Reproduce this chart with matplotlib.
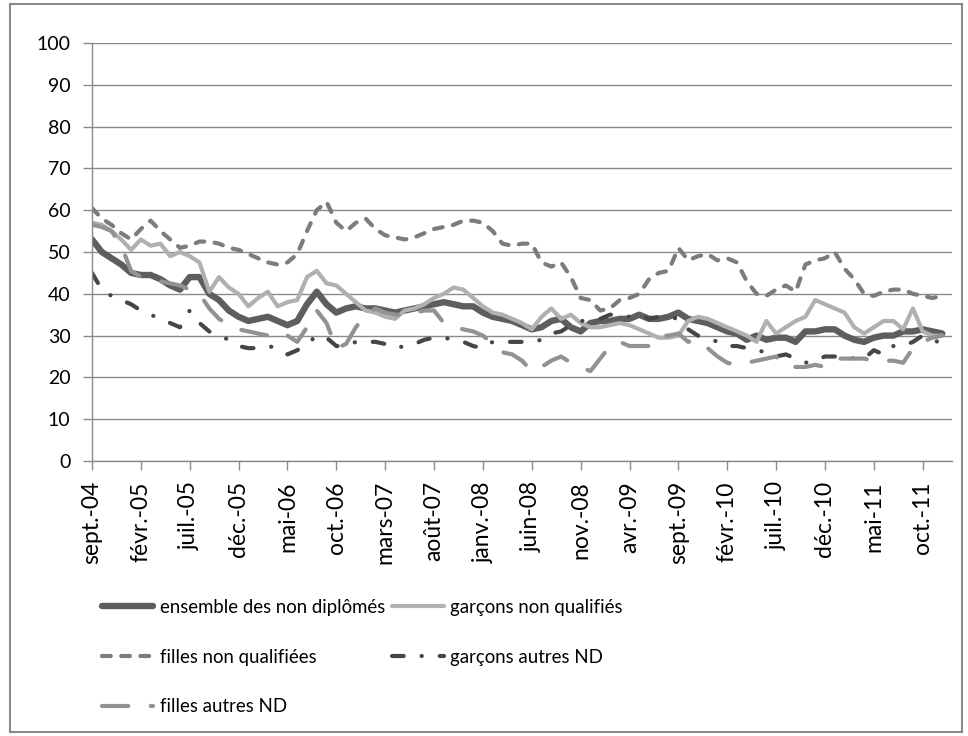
import matplotlib
matplotlib.use('Agg')
import matplotlib.pyplot as plt
from matplotlib.patches import Rectangle

plt.rcParams['font.family'] = ['Lato', 'DejaVu Sans']

# monthly series, sept. 2004 -> dec. 2011
mois = ['janv.', 'févr.', 'mars', 'avr.', 'mai', 'juin',
        'juil.', 'août', 'sept.', 'oct.', 'nov.', 'déc.']
n_mois = 88
categories = [f"{mois[(8 + k) % 12]}-{(4 + (8 + k) // 12):02d}" for k in range(n_mois)]

ensemble = [53, 50, 48.5, 47, 45, 44.5, 44.5, 43.5, 42, 41,
            44, 44, 40, 38.5, 36, 34.5, 33.5, 34, 34.5, 33.5,
            32.5, 33.5, 37.5, 40.5, 37.5, 35.5, 36.5, 37, 36.5, 36.5,
            36, 35.5, 36, 36.5, 37, 37.5, 38, 37.5, 37, 37,
            35.5, 34.5, 34, 33.5, 32.5, 31.5, 32, 33.5, 34, 32,
            31, 33, 33.5, 33.5, 34, 34, 35, 34, 34, 34.5,
            35.5, 34, 33.5, 33, 32, 31, 30.5, 29, 30, 29,
            29.5, 29.5, 28.5, 31, 31, 31.5, 31.5, 30, 29, 28.5,
            29.5, 30, 30, 31, 31, 31.5, 31, 30.5]

garcons_nq = [57, 56.5, 55, 53, 50.5, 53, 51.5, 52, 49, 50,
              49, 47.5, 40.5, 44, 41.5, 40, 37, 39, 40.5, 37,
              38, 38.5, 44, 45.5, 42.5, 42, 40, 38, 36, 35.5,
              34.5, 34, 36, 36.5, 37.5, 39, 40, 41.5, 41, 39,
              37, 35.5, 35, 34, 33, 31.5, 34.5, 36.5, 34, 35,
              33, 32, 32, 32.5, 33, 32.5, 31.5, 30.5, 29.5, 29.5,
              30, 33.5, 34.5, 34, 33, 32, 31, 30, 28.5, 33.5,
              30.5, 32, 33.5, 34.5, 38.5, 37.5, 36.5, 35.5, 32, 30.5,
              32, 33.5, 33.5, 31.5, 36.5, 31, 30, 30]

filles_nq = [60.5, 58, 56.5, 54.5, 53, 55.5, 57.5, 55, 53, 51,
             51.5, 52.5, 52.5, 52, 51, 50.5, 49.5, 48.5, 47.5, 47,
             47.5, 49.5, 55, 60, 62, 57, 55, 57, 58, 55.5,
             54, 53.5, 53, 53.5, 54.5, 55.5, 56, 56.5, 57.5, 57.5,
             57, 55, 52, 51.5, 52, 52, 47.5, 46.5, 47.5, 44,
             39, 38.5, 36, 36.5, 38.5, 39, 40, 43.5, 45, 45.5,
             51, 48, 49, 49.5, 48, 48.5, 47.5, 43, 40, 39.5,
             41, 42, 40.5, 47, 48, 48.5, 50, 46, 43.5, 40,
             39.5, 40.5, 41, 41, 40, 39.5, 39, 39.5]

garcons_autres = [45, 41, 39.5, 38.5, 37.5, 36, 35, 34, 33, 32,
                  36, 33, 31, 30, 29, 27.5, 27, 27, 27.5, 27,
                  25.5, 26.5, 28, 30, 29.5, 27.5, 27.5, 28.5, 28.5, 28.5,
                  28, 27, 27.5, 28, 29, 29.5, 29.5, 29, 28.5, 27.5,
                  27, 28.5, 28.5, 28.5, 28.5, 28.5, 29, 30.5, 31, 32.5,
                  33.5, 33.5, 34, 35, 35, 34.5, 35, 34, 34.5, 34.5,
                  34, 31.5, 30, 29.5, 28.5, 27.5, 27.5, 27, 26.5, 26,
                  25, 25.5, 24.5, 23.5, 24, 25, 25, 25, 24.5, 24.5,
                  26.5, 25.5, 27.5, 27.5, 28.5, 30, 29.5, 27.5]

filles_autres = [56.5, 56, 55, 51.5, 45.5, 44, 43.5, 43, 42.5, 42,
                 41, 40, 36.5, 34, 32.5, 31.5, 31, 30.5, 30, 31,
                 30, 28.5, 32, 36, 33, 27, 28, 32, 35, 36.5,
                 35.5, 35, 35, 35.5, 36, 36, 33, 32, 31.5, 31,
                 30, 28, 26, 25.5, 24, 21.5, 22.5, 24, 25, 23.5,
                 22.5, 21.5, 24.5, 27.5, 28.5, 27.5, 27.5, 27.5, 30, 30,
                 30.5, 28.5, 29, 27, 25, 23.5, 23, 23.5, 24, 24.5,
                 25, 22.5, 22.5, 22.5, 23, 22.5, 24.5, 24.5, 24.5, 24.5,
                 24, 24, 24, 23.5, 27, 28.5, 29.5, 30]

noms = ['ensemble des non diplômés', 'garçons non qualifiés',
        'filles non qualifiées', 'garçons autres ND', 'filles autres ND']

fig = plt.figure(figsize=(9.68, 7.36), dpi=100)
ax = fig.add_axes([92 / 968, 1 - 461 / 736, 860 / 968, 418 / 736])

x = range(n_mois)
grid_c = '#8a8a8a'

l_ens, = ax.plot(x, ensemble, color='#5e5e5e', lw=4.6,
                 solid_capstyle='round', solid_joinstyle='round', label=noms[0])
l_gnq, = ax.plot(x, garcons_nq, color='#b0b0b0', lw=3.0,
                 solid_capstyle='round', solid_joinstyle='round', label=noms[1])
l_fnq, = ax.plot(x, filles_nq, color='#7c7c7c', lw=3.0,
                 dash_capstyle='round', dash_joinstyle='round', label=noms[2])
l_fnq.set_dashes((2.1, 2.5))
l_gau, = ax.plot(x, garcons_autres, color='#464646', lw=3.0,
                 dash_capstyle='round', dash_joinstyle='round', label=noms[3])
l_gau.set_dashes((2.8, 4.3, 0.05, 4.3))
l_fau, = ax.plot(x, filles_autres, color='#929292', lw=3.0,
                 dash_capstyle='round', dash_joinstyle='round', label=noms[4])
l_fau.set_dashes((6.3, 5.4))

ax.set_xlim(0, n_mois)
ax.set_ylim(0, 100)
ax.set_yticks(range(0, 101, 10))
ax.yaxis.grid(True, color=grid_c, lw=1.0)
ax.set_axisbelow(True)

pos = list(range(0, n_mois, 5))
ax.set_xticks(pos)
ax.set_xticklabels([categories[p] for p in pos], rotation=90, va='top', ha='center')

for s in ['top', 'right']:
    ax.spines[s].set_visible(False)
for s in ['left', 'bottom']:
    ax.spines[s].set_color(grid_c)
    ax.spines[s].set_linewidth(1.0)
ax.tick_params(axis='both', colors=grid_c, labelcolor='black',
               length=6.5, width=1.0)
ax.tick_params(axis='y', pad=9, labelsize=14)
ax.tick_params(axis='x', pad=8, labelsize=16.5)

# legend, entries row by row over two columns
handles = [l_ens, l_fnq, l_fau, l_gnq, l_gau]
fig.legend(handles, [h.get_label() for h in handles], loc='upper left',
           bbox_to_anchor=(102 / 968, 1 - 599 / 736), ncol=2, frameon=False,
           fontsize=13.4, handlelength=2.75, handletextpad=0.35,
           columnspacing=0.4, labelspacing=1.75, borderpad=0, borderaxespad=0)

# chart border
fig.patches.append(Rectangle((10 / 968, 4 / 736), 952 / 968, 728 / 736,
                             transform=fig.transFigure, fill=False,
                             edgecolor='#8a8a8a', lw=1.5))

fig.savefig('out.png', dpi=100)
